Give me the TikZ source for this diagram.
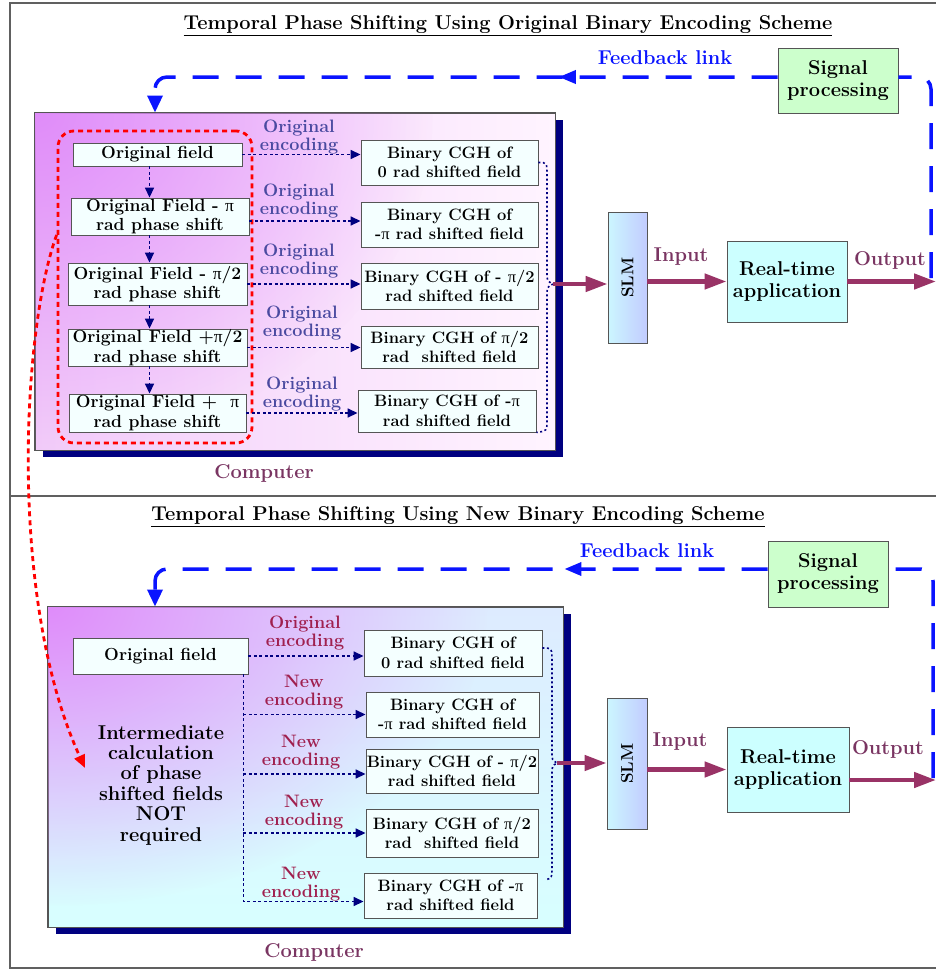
\documentclass[tikz,border=0pt]{standalone}
\usepackage{fontspec}
\newfontfamily\greekf{Liberation Serif}
\usetikzlibrary{arrows.meta,decorations.markings,shadows,fadings}
\definecolor{navy}{HTML}{000080}
\definecolor{boxline}{HTML}{555555}
\definecolor{framegray}{HTML}{606060}
\definecolor{boxfill}{HTML}{F4FFFF}
\definecolor{fbblue}{HTML}{0A14FF}
\definecolor{arrowpurple}{HTML}{993366}
\definecolor{labmaroon}{HTML}{7A3562}
\definecolor{enctop}{HTML}{4A4AA0}
\definecolor{encbot}{HTML}{A0204F}
\definecolor{violetA}{HTML}{E08CFA}
\definecolor{pinkL}{HTML}{F2CCF9}
\definecolor{pinkR}{HTML}{FFF4FF}
\definecolor{blueT}{HTML}{DDEBFF}
\definecolor{cyanB}{HTML}{D8FFFF}
\definecolor{greenfill}{HTML}{CCFFCC}
\definecolor{cyanfill}{HTML}{CCFFFF}
\definecolor{slmA}{HTML}{CCF6FF}
\definecolor{slmB}{HTML}{C2CCFF}
\definecolor{redcol}{HTML}{FF0000}
\tikzfading[name=glowfade, inner color=transparent!0, outer color=transparent!100]
\newcommand\PI{{\greekf\mdseries π}}
\newcommand\ttlfont{\fontsize{20}{22}\selectfont\bfseries}
\newcommand\lbfont{\fontsize{17.5}{19.3}\selectfont\bfseries}
\newcommand\rbfont{\fontsize{16.5}{19.5}\selectfont\bfseries}
\newcommand\encfont{\fontsize{18}{17.5}\selectfont\bfseries}
\newcommand\bigfont{\fontsize{20}{22}\selectfont\bfseries}
\newcommand\iofont{\fontsize{20}{22}\selectfont\bfseries}
\newcommand\slmfont{\fontsize{17}{17}\selectfont\bfseries}
\newcommand\intfont{\fontsize{20}{20.4}\selectfont\bfseries}
\tikzset{
 lbox/.style={draw=boxline, line width=0.9pt, fill=boxfill, align=center, inner sep=0pt, font=\lbfont},
 rbox/.style={lbox, font=\rbfont},
 dotarrow/.style={navy, line width=1.6pt, dash pattern=on 3pt off 2.5pt, -{Triangle[length=10pt,width=9pt]}},
 bracepath/.style={navy, line width=1.6pt, dash pattern=on 2pt off 2.5pt},
 enclab/.style={align=center, inner sep=0pt, font=\encfont},
 fb/.style={fbblue, line width=3.5pt, dash pattern=on 26pt off 17pt},
 parrow/.style={arrowpurple, line width=4.5pt, -{Triangle[length=22pt,width=15pt]}},
 iolab/.style={text=labmaroon, font=\iofont, inner sep=0pt},
 complab/.style={text=labmaroon, font=\bigfont, inner sep=0pt},
 reddash/.style={draw=redcol, line width=2.8pt, dash pattern=on 5pt off 4pt},
 panelframe/.style={draw=framegray, line width=1.2pt},
 compbox/.style={draw=boxline, line width=1pt, inner sep=0pt, drop shadow={shadow xshift=8pt, shadow yshift=-7pt, fill=navy, opacity=1}},
 procbox/.style={draw=boxline, line width=0.9pt, align=center, inner sep=0pt, font=\bigfont},
 fblab/.style={text=fbblue, font=\bigfont, inner sep=0pt},
}
\begin{document}
\begin{tikzpicture}[x=1pt,y=-1pt]
\useasboundingbox (0,0) rectangle (935,969);
\fill[white] (0,0) rectangle (935,969);
% panels
\draw[panelframe] (10,3) rectangle (945,496);
\draw[panelframe] (10,496) rectangle (945,968);
% titles
\node[font=\ttlfont, inner sep=0pt] (t1) at (508,26) {\underline{Temporal Phase Shifting Using Original Binary Encoding Scheme}};
\node[font=\ttlfont, inner sep=0pt] (t2) at (458,517) {\underline{Temporal Phase Shifting Using New Binary Encoding Scheme}};

% ================= TOP PANEL =================
\node[compbox, left color=pinkL, right color=pinkR, minimum width=520pt, minimum height=337pt] (comp1) at (295,281.5) {};
\begin{scope}
\clip (comp1.south west) rectangle (comp1.north east);
\fill[violetA, path fading=glowfade] (comp1.north west) ellipse [x radius=400pt, y radius=340pt];
\end{scope}
\draw[boxline, line width=1pt] (comp1.south west) rectangle (comp1.north east);
\node[complab] (c1) at (264,473) {Computer};

\node[lbox, minimum width=169pt, minimum height=23pt] (l1) at (157.5,154.5) {Original field};
\node[lbox, minimum width=178pt, minimum height=37pt] (l2) at (160,216.5) {Original Field - \PI\\rad phase shift};
\node[lbox, minimum width=179pt, minimum height=42pt] (l3) at (157.5,284) {Original Field - \PI/2\\rad phase shift};
\node[lbox, minimum width=179pt, minimum height=37pt] (l4) at (157.5,347.5) {Original Field +\PI/2\\rad phase shift};
\node[lbox, minimum width=177pt, minimum height=38pt] (l5) at (157.5,413) {Original Field + \ \PI\\rad phase shift};

\node[reddash, rounded corners=16pt, minimum width=194pt, minimum height=312pt, inner sep=0pt] (grp) at (155,287) {};

\node[rbox, minimum width=177pt, minimum height=45pt] (r1) at (449.5,162.5) {Binary CGH of\\0 rad shifted field};
\node[rbox, minimum width=177pt, minimum height=45pt] (r2) at (449.5,224.5) {Binary CGH of\\-\PI\ rad shifted field};
\node[rbox, minimum width=177pt, minimum height=46pt] (r3) at (449.5,286) {Binary CGH of - \PI/2\\rad shifted field};
\node[rbox, minimum width=177pt, minimum height=42pt] (r4) at (449.5,347) {Binary CGH of \PI/2\\rad \ shifted field};
\node[rbox, minimum width=178pt, minimum height=42pt] (r5) at (447,411) {Binary CGH of -\PI\\rad shifted field};

% vertical arrows
\coordinate (vx) at ([xshift=-8pt]l1.south);
\draw[dotarrow] (vx) -- (vx |- l2.north);
\draw[dotarrow] (vx |- l2.south) -- (vx |- l3.north);
\draw[dotarrow] (vx |- l3.south) -- (vx |- l4.north);
\draw[dotarrow] (vx |- l4.south) -- (vx |- l5.north);

% horizontal arrows
\coordinate (a2) at ([yshift=-4.5pt]l2.east);
\draw[dotarrow] (l1.east) -- (r1.west |- l1.east);
\draw[dotarrow] (a2) -- (r2.west |- a2);
\draw[dotarrow] (l3.east) -- (r3.west |- l3.east);
\draw[dotarrow] (l4.east) -- (r4.west |- l4.east);
\draw[dotarrow] (l5.east) -- (r5.west |- l5.east);

\node[enclab, text=enctop] (e1) at (299,137) {Original\\encoding};
\node[enclab, text=enctop] (e2) at (299,201) {Original\\encoding};
\node[enclab, text=enctop] (e3) at (299,261) {Original\\encoding};
\node[enclab, text=enctop] (e4) at (302,323) {Original\\encoding};
\node[enclab, text=enctop] (e5) at (302,394) {Original\\encoding};

% brace
\coordinate (b1) at (553,284);
\draw[bracepath] (r1.east) .. controls (547,162.5) .. (547,176) -- (547,272) .. controls (547,281) .. (b1) .. controls (547,287) .. (547,296) -- (547,420) .. controls (547,431) .. (r5.south east);

% SLM etc
\node[draw=boxline, line width=0.9pt, left color=slmA, right color=slmB, minimum width=39pt, minimum height=131pt, inner sep=0pt] (slm1) at (627.5,277.5) {};
\node[rotate=90, font=\slmfont, inner sep=0pt] (slm1t) at (slm1.center) {SLM};
\node[procbox, fill=cyanfill, minimum width=120pt, minimum height=81pt] (rt1) at (787,281.5) {Real-time\\application};
\node[procbox, fill=greenfill, minimum width=120pt, minimum height=65pt] (sp1) at (838,80.5) {Signal\\processing};

\draw[parrow] (b1) -- (slm1.west |- b1);
\draw[parrow] (slm1.east |- rt1.west) -- (rt1.west);
\coordinate (o1) at (936,281.5);
\draw[parrow] (rt1.east) -- (o1);
\node[iolab] (in1) at (681,257) {Input};
\node[iolab] (out1) at (890,260) {Output};

% feedback
\coordinate (fb1r) at (931,278);
\coordinate (fb1c) at (931,77);
\coordinate (fb1l) at (155,77);
\draw[fb, rounded corners=12pt] (fb1r) -- (fb1c) -- (sp1.east |- fb1c);
\draw[fb, rounded corners=12pt, -{Triangle[length=17pt,width=15pt]}, postaction={decorate,decoration={markings, mark=at position 0.335 with {\arrow{Triangle[length=17pt,width=13pt]}}}}] (sp1.west |- fb1c) -- (fb1l) -- (fb1l |- comp1.north);
\node[fblab] (fbl1) at (665,58) {Feedback link};

% ================= BOTTOM PANEL =================
\node[compbox, top color=blueT, bottom color=cyanB, minimum width=515pt, minimum height=320pt] (comp2) at (305.5,767) {};
\begin{scope}
\clip (comp2.south west) rectangle (comp2.north east);
\fill[violetA, path fading=glowfade] (comp2.north west) ellipse [x radius=440pt, y radius=300pt];
\end{scope}
\draw[boxline, line width=1pt] (comp2.south west) rectangle (comp2.north east);
\node[complab] (c2) at (314,952) {Computer};

\node[lbox, minimum width=175pt, minimum height=36pt] (bl1) at (160.5,656) {Original field};
\node[align=center, font=\intfont, inner sep=0pt] (inter) at (161,785) {Intermediate\\calculation\\of phase\\shifted fields\\NOT\\required};

\node[rbox, minimum width=178pt, minimum height=46pt] (rb1) at (453,653) {Binary CGH of\\0 rad shifted field};
\node[rbox, minimum width=173pt, minimum height=45pt] (rb2) at (452.5,714.5) {Binary CGH of\\-\PI\ rad shifted field};
\node[rbox, minimum width=172pt, minimum height=44pt] (rb3) at (452,771) {Binary CGH of - \PI/2\\rad shifted field};
\node[rbox, minimum width=172pt, minimum height=48pt] (rb4) at (452,833) {Binary CGH of \PI/2\\rad \ shifted field};
\node[rbox, minimum width=173pt, minimum height=45pt] (rb5) at (450.5,895.5) {Binary CGH of -\PI\\rad shifted field};

\coordinate (trunk) at ([xshift=-5pt]bl1.south east);
\coordinate (a5) at ([yshift=-6pt]rb5.west);
\coordinate (a3) at ([yshift=-3pt]rb3.west);
\draw[dotarrow] (bl1.east) -- (rb1.west |- bl1.east);
\draw[dotarrow] (trunk) |- (a5);
\draw[dotarrow] (trunk |- rb2.west) -- (rb2.west);
\draw[dotarrow] (trunk |- a3) -- (a3);
\draw[dotarrow] (trunk |- rb4.west) -- (rb4.west);

\node[enclab, text=encbot] (f1) at (305,633) {Original\\encoding};
\node[enclab, text=encbot] (f2) at (304,692) {New\\encoding};
\node[enclab, text=encbot] (f3) at (301,752) {New\\encoding};
\node[enclab, text=encbot] (f4) at (304,812) {New\\encoding};
\node[enclab, text=encbot] (f5) at (301,884) {New\\encoding};

\coordinate (b2) at (557,763);
\draw[bracepath] ([yshift=5pt]rb1.east) .. controls (552,648) .. (552,662) -- (552,752) .. controls (552,760) .. (b2) .. controls (552,766) .. (552,775) -- (552,866) .. controls (552,878) .. (545,880);

\node[draw=boxline, line width=0.9pt, left color=slmA, right color=slmB, minimum width=40pt, minimum height=131pt, inner sep=0pt] (slm2) at (627,763.5) {};
\node[rotate=90, font=\slmfont, inner sep=0pt] (slm2t) at (slm2.center) {SLM};
\node[procbox, fill=cyanfill, minimum width=122pt, minimum height=85pt] (rt2) at (788,769.5) {Real-time\\application};
\node[procbox, fill=greenfill, minimum width=120pt, minimum height=66pt] (sp2) at (828,574) {Signal\\processing};

\draw[parrow] (b2) -- (slm2.west |- b2);
\draw[parrow] (slm2.east |- rt2.west) -- (rt2.west);
\coordinate (o2s) at ([yshift=-10.5pt]rt2.east);
\coordinate (o2) at (936,780);
\draw[parrow] (o2s) -- (o2);
\node[iolab] (in2) at (680,742) {Input};
\node[iolab] (out2) at (888,749) {Output};

\coordinate (fb2r) at (933,778);
\coordinate (fb2c) at (933,569);
\coordinate (fb2l) at (155,569);
\draw[fb, rounded corners=12pt] (fb2r) -- (fb2c) -- (sp2.east |- fb2c);
\draw[fb, rounded corners=12pt, -{Triangle[length=17pt,width=15pt]}, postaction={decorate,decoration={markings, mark=at position 0.315 with {\arrow{Triangle[length=17pt,width=13pt]}}}}] (sp2.west |- fb2c) -- (fb2l) -- (fb2l |- comp2.north);
\node[fblab] (fbl2) at (647,551) {Feedback link};

% red link
\coordinate (redtip) at (85,768);
\draw[redcol, line width=2.8pt, dash pattern=on 5pt off 4pt, -{Triangle[length=13pt,width=11pt]}] ([yshift=52pt]grp.west) .. controls (22,330) and (8,600) .. (redtip);
\end{tikzpicture}
\end{document}
